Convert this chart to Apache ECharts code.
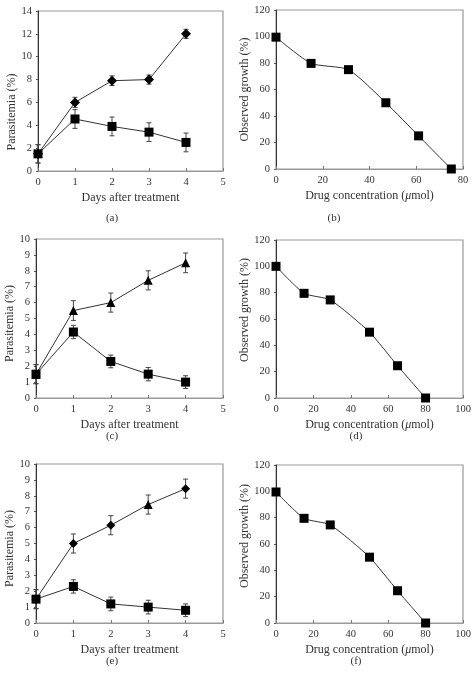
<!DOCTYPE html>
<html><head><meta charset="utf-8">
<script src="https://cdn.jsdelivr.net/npm/echarts@6/dist/echarts.min.js"></script>
<style>html,body{margin:0;padding:0;background:#fff}#c{width:476px;height:678px}</style>
</head><body><div id="c"></div>
<script>
// ---- data ----
const days = [0, 1, 2, 3, 4];
const daysTicks = [0, 1, 2, 3, 4, 5];

const aUpper = [1.5, 6.0, 7.9, 8.0, 12.0];
const aUpperErr = [0.8, 0.45, 0.42, 0.4, 0.4];
const aLower = [1.5, 4.55, 3.9, 3.4, 2.5];
const aLowerErr = [0.8, 0.82, 0.82, 0.82, 0.82];

const bConc = [0, 15, 31, 47, 61, 75];
const bGrowth = [99.5, 79.7, 75, 50, 25, 0];

const cUpper = [1.5, 5.5, 6.0, 7.4, 8.5];
const cUpperErr = [0.6, 0.62, 0.6, 0.6, 0.62];
const cLower = [1.5, 4.15, 2.3, 1.5, 1.0];
const cLowerErr = [0.6, 0.42, 0.4, 0.42, 0.4];

const dConc = [0, 15, 29, 50, 65, 80];
const dGrowth = [100, 79.5, 74.5, 50, 24.5, 0];

const eUpper = [1.5, 5.0, 6.15, 7.45, 8.45];
const eUpperErr = [0.6, 0.6, 0.6, 0.6, 0.6];
const eUpperSymbols = ['diamond', 'diamond', 'diamond', 'triangle', 'diamond'];
const eLower = [1.5, 2.3, 1.2, 1.0, 0.8];
const eLowerErr = [0.6, 0.42, 0.43, 0.43, 0.4];

const fConc = [0, 15, 29, 50, 65, 80];
const fGrowth = [99.5, 79.5, 74.5, 50, 24.5, 0];

const panelLabels = ['(a)', '(b)', '(c)', '(d)', '(e)', '(f)'];
const xNameDays = 'Days after treatment';
const xNameConc = 'Drug concentration ({i|μ}mol)';
const yNamePara = 'Parasitemia (%)';
const yNameGrowth = 'Observed growth (%)';

// ---- layout/style ----
const FONT = '"Liberation Serif", "DejaVu Serif", serif';
const grids = [
  {left: 38, top: 11, width: 185, height: 160},
  {left: 276, top: 10, width: 187, height: 159},
  {left: 36, top: 239, width: 187, height: 159},
  {left: 276, top: 240, width: 187, height: 158},
  {left: 36, top: 464, width: 187, height: 159},
  {left: 276, top: 465, width: 187, height: 158}
];
const labelPos = [[112, 218], [334, 218], [112, 436], [356, 436], [112, 661], [356, 661]];
// shift of rotated y-axis titles along the axis (positive = downward)
const yNameShift = [21, 0, 5, -9, 5, -8];

function xAx(i, min, max, interval, name) {
  return {
    type: 'value', gridIndex: i, min, max, interval,
    name, nameLocation: 'middle', nameGap: 21,
    nameTextStyle: {fontFamily: FONT, fontSize: 12, color: '#333',
      rich: {i: {fontFamily: FONT, fontStyle: 'italic', fontSize: 12, color: '#333'}}},
    axisLine: {onZero: false, lineStyle: {color: '#999', width: 1.2}},
    axisTick: {show: true, inside: true, length: 3, lineStyle: {color: '#777'}},
    axisLabel: {fontFamily: FONT, fontSize: 10.5, color: '#333', margin: 6},
    splitLine: {show: false}
  };
}
function yAx(i, min, max, interval, name, gap) {
  const s = yNameShift[i];
  return {
    type: 'value', gridIndex: i, min, max, interval,
    name, nameLocation: 'middle', nameGap: gap, nameRotate: 90,
    nameTextStyle: {fontFamily: FONT, fontSize: 12, color: '#333',
      padding: s >= 0 ? [0, 2 * s, 0, 0] : [0, 0, 0, -2 * s]},
    axisLine: {show: true, onZero: false, lineStyle: {color: '#333', width: 1}},
    axisTick: {show: true, inside: false, length: 2, lineStyle: {color: '#555'}},
    axisLabel: {fontFamily: FONT, fontSize: 10.5, color: '#333', margin: 6},
    splitLine: {show: false}
  };
}

function errSeries(i, xs, ys, errs) {
  return {
    type: 'custom', xAxisIndex: i, yAxisIndex: i, z: 1, silent: true,
    data: xs.map((x, k) => [x, ys[k], errs[k]]),
    renderItem: function (params, api) {
      const x = api.value(0), y = api.value(1), e = api.value(2);
      const top = api.coord([x, y + e]);
      const bot = api.coord([x, y - e]);
      const w = 2.5;
      const st = {stroke: '#444', lineWidth: 1};
      return {type: 'group', children: [
        {type: 'line', shape: {x1: top[0], y1: top[1], x2: bot[0], y2: bot[1]}, style: st},
        {type: 'line', shape: {x1: top[0] - w, y1: top[1], x2: top[0] + w, y2: top[1]}, style: st},
        {type: 'line', shape: {x1: bot[0] - w, y1: bot[1], x2: bot[0] + w, y2: bot[1]}, style: st}
      ]};
    }
  };
}
function lineSeries(i, xs, ys, symbol, size, smooth) {
  return {
    type: 'line', xAxisIndex: i, yAxisIndex: i, z: 3,
    data: xs.map((x, k) => {
      const d = {value: [x, ys[k]]};
      if (Array.isArray(symbol)) d.symbol = symbol[k];
      return d;
    }),
    symbol: Array.isArray(symbol) ? 'diamond' : symbol,
    symbolSize: size, showAllSymbol: true,
    smooth: smooth || false,
    lineStyle: {color: '#333', width: 1},
    itemStyle: {color: '#000', borderWidth: 0},
    emphasis: {disabled: true}
  };
}

const option = {
  animation: false,
  backgroundColor: '#fff',
  grid: grids.map(g => Object.assign({show: true, borderColor: '#999', borderWidth: 1.2, backgroundColor: 'transparent', containLabel: false}, g)),
  xAxis: [
    xAx(0, 0, 5, 1, xNameDays),
    xAx(1, 0, 80, 20, xNameConc),
    xAx(2, 0, 5, 1, xNameDays),
    xAx(3, 0, 100, 20, xNameConc),
    xAx(4, 0, 5, 1, xNameDays),
    xAx(5, 0, 100, 20, xNameConc)
  ],
  yAxis: [
    yAx(0, 0, 14, 2, yNamePara, 18),
    yAx(1, 0, 120, 20, yNameGrowth, 25),
    yAx(2, 0, 10, 1, yNamePara, 19),
    yAx(3, 0, 120, 20, yNameGrowth, 25),
    yAx(4, 0, 10, 1, yNamePara, 19),
    yAx(5, 0, 120, 20, yNameGrowth, 25)
  ],
  graphic: panelLabels.map((t, k) => ({
    type: 'text', x: labelPos[k][0], y: labelPos[k][1],
    style: {text: t, font: '11px ' + FONT, fill: '#333', textAlign: 'center', textVerticalAlign: 'middle'}
  })),
  series: [
    errSeries(0, days, aLower, aLowerErr),
    errSeries(0, days, aUpper, aUpperErr),
    lineSeries(0, days, aLower, 'rect', 9),
    lineSeries(0, days, aUpper, 'diamond', 10),

    lineSeries(1, bConc, bGrowth, 'rect', 9, 0.2),

    errSeries(2, days, cLower, cLowerErr),
    errSeries(2, days, cUpper, cUpperErr),
    lineSeries(2, days, cLower, 'rect', 9),
    lineSeries(2, days, cUpper, 'triangle', 9),

    lineSeries(3, dConc, dGrowth, 'rect', 9, 0.2),

    errSeries(4, days, eLower, eLowerErr),
    errSeries(4, days, eUpper, eUpperErr),
    lineSeries(4, days, eLower, 'rect', 9),
    lineSeries(4, days, eUpper, eUpperSymbols, 9),

    lineSeries(5, fConc, fGrowth, 'rect', 9, 0.2)
  ]
};
const chart = echarts.init(document.getElementById('c'), null, {renderer: 'canvas'});
chart.setOption(option);
</script></body></html>
